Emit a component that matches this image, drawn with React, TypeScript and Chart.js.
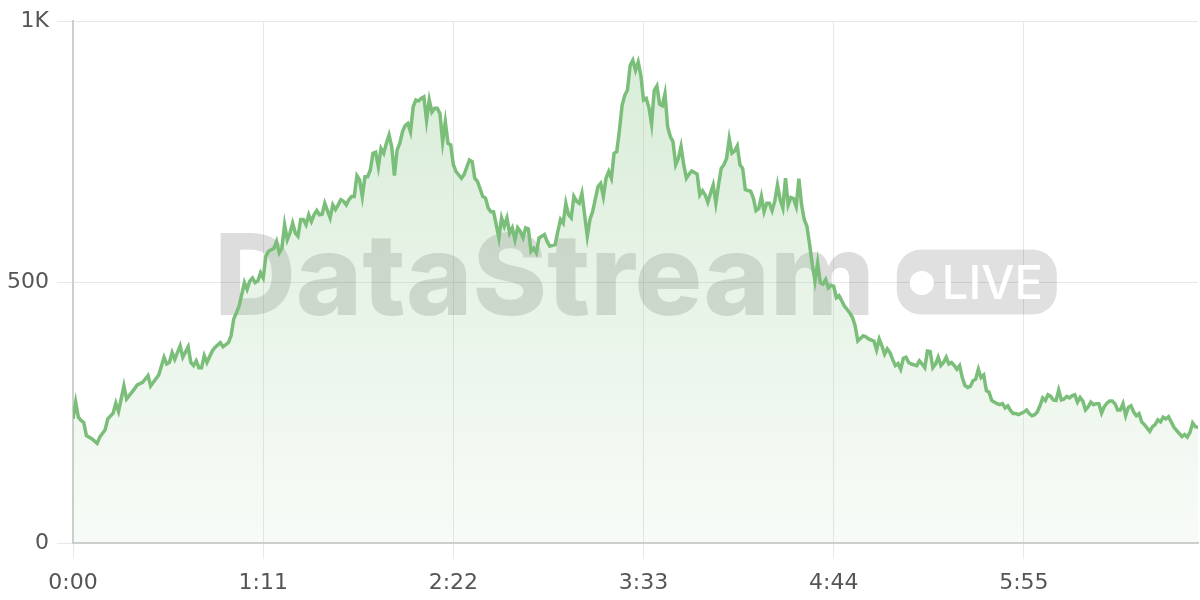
import React, { useEffect, useRef } from "react";
import { Chart, registerables } from "chart.js";

Chart.register(...registerables);

// elapsed time (seconds) of each sample
const seconds = [
  0, 1, 2, 3, 4, 5, 7, 9, 10, 12, 13, 15, 16, 17, 19, 20, 22, 24, 26, 28, 29, 30, 32, 34, 35, 36, 37, 38, 40, 41,
  43, 44, 45, 46, 47, 48, 49, 50, 52, 53, 55, 56, 58, 59, 60, 62, 64, 65, 66, 67, 68, 69, 70, 71, 72, 73, 75, 76, 77, 78,
  79, 80, 81, 82, 83, 84, 85, 86, 87, 88, 89, 90, 91, 92, 93, 94, 96, 97, 98, 99, 100, 101, 102, 103, 104, 105, 106, 107, 108, 109,
  110, 111, 112, 113, 114, 115, 116, 117, 118, 119, 120, 121, 122, 123, 124, 125, 126, 127, 128, 129, 130, 131, 132, 133, 134, 135, 136, 137, 138, 139,
  140, 141, 142, 143, 145, 146, 148, 149, 150, 151, 153, 154, 155, 156, 157, 158, 159, 160, 161, 162, 163, 164, 165, 166, 167, 168, 169, 170, 171, 172,
  173, 174, 176, 177, 178, 180, 181, 182, 183, 184, 185, 186, 187, 188, 189, 190, 192, 193, 194, 196, 197, 198, 199, 200, 201, 202, 203, 204, 205, 206,
  207, 208, 209, 210, 211, 212, 213, 214, 215, 216, 217, 218, 219, 220, 221, 222, 223, 224, 225, 226, 227, 228, 229, 230, 231, 233, 234, 235, 236, 237,
  238, 239, 240, 241, 242, 243, 244, 245, 246, 247, 248, 249, 250, 251, 253, 254, 255, 256, 257, 258, 259, 260, 261, 262, 263, 264, 265, 266, 267, 268,
  269, 270, 271, 272, 273, 274, 275, 276, 277, 278, 279, 280, 281, 282, 283, 284, 285, 286, 288, 290, 291, 292, 293, 295, 296, 297, 299, 300, 301, 302,
  303, 304, 305, 306, 307, 308, 309, 310, 311, 312, 313, 315, 316, 317, 318, 319, 320, 321, 322, 323, 324, 325, 326, 327, 328, 329, 330, 331, 332, 333,
  334, 335, 336, 337, 338, 339, 340, 341, 342, 343, 345, 346, 347, 348, 349, 350, 351, 352, 353, 355, 356, 357, 358, 359, 360, 361, 362, 363, 364, 365,
  366, 367, 368, 369, 370, 371, 372, 373, 374, 375, 376, 377, 378, 379, 380, 381, 382, 383, 384, 385, 386, 387, 388, 389, 390, 391, 392, 393, 394, 395,
  396, 397, 398, 399, 400, 402, 403, 404, 405, 406, 407, 408, 409, 411, 412, 413, 414, 415, 416, 417, 418, 419, 420,
];

// stream value at each sample
const values = [
  238, 270, 241, 235, 231, 206, 200, 191, 203, 217, 238, 249, 268, 252, 301, 276, 289, 303, 308, 321, 301, 308, 322, 356, 343, 346, 365, 352, 378, 356,
  376, 346, 340, 349, 336, 336, 359, 346, 368, 375, 384, 376, 384, 397, 429, 454, 499, 486, 502, 508, 499, 502, 518, 508, 550, 559, 565, 578, 556, 565,
  610, 581, 594, 613, 594, 588, 620, 620, 610, 629, 616, 629, 637, 629, 630, 651, 623, 648, 639, 648, 658, 655, 648, 658, 664, 664, 704, 696, 664, 702,
  702, 715, 747, 749, 721, 756, 747, 766, 782, 759, 704, 753, 766, 788, 800, 804, 788, 836, 849, 847, 852, 855, 810, 849, 826, 833, 833, 823, 769, 807,
  766, 763, 725, 712, 699, 706, 734, 731, 699, 693, 664, 661, 642, 635, 635, 610, 585, 623, 607, 623, 594, 604, 581, 604, 597, 585, 604, 602, 559, 565,
  556, 585, 591, 578, 569, 572, 597, 620, 613, 651, 629, 623, 664, 655, 651, 670, 588, 620, 635, 683, 689, 664, 699, 712, 699, 747, 750, 791, 839, 858,
  868, 915, 925, 906, 922, 896, 849, 852, 835, 803, 867, 876, 841, 838, 861, 798, 779, 769, 725, 737, 760, 725, 699, 707, 713, 707, 667, 675, 667, 653,
  670, 686, 651, 686, 718, 725, 737, 775, 747, 751, 761, 725, 718, 677, 674, 661, 637, 641, 664, 635, 651, 651, 637, 655, 686, 658, 642, 699, 648, 662,
  660, 645, 698, 648, 620, 607, 572, 534, 502, 537, 499, 496, 505, 489, 494, 492, 470, 474, 454, 441, 432, 416, 387, 397, 395, 391, 387, 370, 391, 378,
  362, 372, 365, 352, 340, 344, 333, 354, 356, 346, 343, 340, 349, 343, 336, 368, 367, 336, 343, 356, 340, 346, 356, 343, 346, 340, 333, 340, 317, 302,
  298, 300, 311, 314, 333, 317, 322, 292, 289, 273, 267, 265, 267, 259, 263, 254, 248, 248, 246, 251, 255, 248, 244, 246, 251, 263, 278, 273, 284, 281,
  274, 273, 293, 274, 276, 281, 278, 282, 284, 270, 279, 272, 255, 261, 270, 265, 267, 267, 249, 261, 268, 272, 272, 267, 255, 255, 267, 244, 260, 263,
  251, 244, 248, 232, 227, 214, 223, 227, 236, 232, 241, 238, 242, 222, 216, 210, 204, 208, 203, 212, 230, 223, 222,
];

const xTickValues = [0, 71, 142, 213, 284, 355];
const yTickValues = [0, 500, 1000];
const watermarkTitle = "DataStream";
const watermarkBadge = "LIVE";

const LINE = "rgb(122,190,122)";
const TICK_FONT = { family: "'DejaVu Sans', sans-serif", size: 22 };

function fmtTime(s: number): string {
  const m = Math.floor(s / 60);
  const ss = Math.round(s % 60);
  return `${m}:${String(ss).padStart(2, "0")}`;
}

function fmtY(v: number): string {
  return v >= 1000 ? `${v / 1000}K` : String(v);
}

const watermarkPlugin = {
  id: "watermark",
  beforeDatasetsDraw(chart: any) {
    const { ctx, chartArea } = chart;
    const cx = (chartArea.left + chartArea.right) / 2;
    const cy = (chartArea.top + chartArea.bottom) / 2;
    ctx.save();
    ctx.font = "800 113px Inter";
    ctx.textBaseline = "alphabetic";
    ctx.textAlign = "left";
    const titleW = ctx.measureText(watermarkTitle).width;
    const gap = 22;
    const badgeW = 160;
    const badgeH = 65;
    const total = titleW + gap + badgeW;
    const x0 = cx - total / 2;
    const badgeTop = cy - badgeH / 2;
    ctx.fillStyle = "rgba(0,0,0,0.135)";
    ctx.fillText(watermarkTitle, x0, badgeTop + badgeH);
    const bx = x0 + titleW + gap;
    ctx.beginPath();
    ctx.roundRect(bx, badgeTop, badgeW, badgeH, 24);
    ctx.fillStyle = "rgba(0,0,0,0.12)";
    ctx.fill();
    ctx.fillStyle = "#ffffff";
    ctx.beginPath();
    ctx.arc(bx + 25, cy + 1, 12, 0, Math.PI * 2);
    ctx.fill();
    ctx.font = "500 47px Inter";
    ctx.fillText(watermarkBadge, bx + 45, badgeTop + 49);
    ctx.restore();
  },
};

export default function App() {
  const canvasRef = useRef<HTMLCanvasElement | null>(null);

  useEffect(() => {
    document.body.style.margin = "0";
    const canvas = canvasRef.current;
    if (!canvas) return;
    const points = seconds.map((s, i) => ({ x: s, y: values[i] }));
    const chart = new Chart(canvas, {
      type: "line",
      data: {
        datasets: [
          {
            data: points,
            borderColor: LINE,
            borderWidth: 3.5,
            pointRadius: 0,
            tension: 0,
            fill: "origin",
            backgroundColor: (c: any) => {
              const { ctx, chartArea } = c.chart;
              if (!chartArea) return "rgba(122,190,122,0.15)";
              const g = ctx.createLinearGradient(0, chartArea.top, 0, chartArea.bottom);
              g.addColorStop(0, "rgba(122,190,122,0.30)");
              g.addColorStop(1, "rgba(122,190,122,0.06)");
              return g;
            },
          },
        ],
      },
      options: {
        animation: false,
        responsive: false,
        maintainAspectRatio: false,
        layout: { padding: { top: 19, right: 2, left: 0, bottom: 0 } },
        plugins: { legend: { display: false }, tooltip: { enabled: false } },
        scales: {
          x: {
            type: "linear",
            min: 0,
            max: 420,
            afterBuildTicks: (s: any) => {
              s.ticks = xTickValues.map((v) => ({ value: v }));
            },
            afterFit: (s: any) => {
              s.height = 57;
            },
            ticks: {
              callback: (v: any) => fmtTime(Number(v)),
              font: TICK_FONT,
              color: "#555555",
              padding: 11,
              maxRotation: 0,
              autoSkip: false,
            },
            grid: { color: "#e8e8e8", lineWidth: 1, tickLength: 16 },
            border: { color: "#cfcfcf", width: 2 },
          },
          y: {
            type: "linear",
            min: 0,
            max: 1000,
            afterBuildTicks: (s: any) => {
              s.ticks = yTickValues.map((v) => ({ value: v }));
            },
            afterFit: (s: any) => {
              s.width = 73;
            },
            ticks: {
              callback: (v: any) => fmtY(Number(v)),
              font: TICK_FONT,
              color: "#555555",
              padding: 8,
            },
            grid: { color: "#e8e8e8", lineWidth: 1, tickLength: 16 },
            border: { color: "#cfcfcf", width: 2 },
          },
        },
      },
      plugins: [watermarkPlugin],
    });
    return () => chart.destroy();
  }, []);

  return (
    <div style={{ width: 1200, height: 600, position: "relative", background: "#ffffff" }}>
      <canvas ref={canvasRef} width={1200} height={600} style={{ display: "block" }} />
    </div>
  );
}
